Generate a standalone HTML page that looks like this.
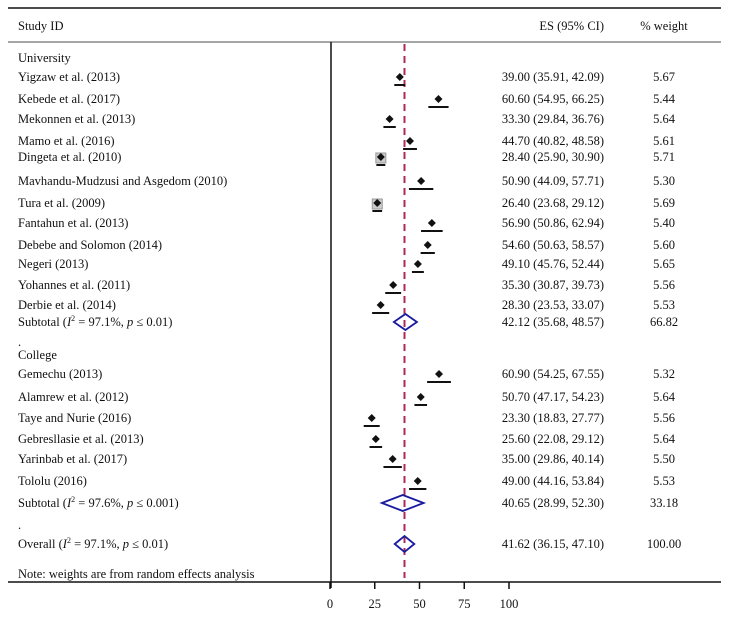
<!DOCTYPE html>
<html><head><meta charset="utf-8"><style>
body{margin:0;background:#fff}
svg text{font-family:"Liberation Serif",serif;font-size:12.5px;fill:#111}
</style></head><body>
<svg id="c" width="729" height="616" xmlns="http://www.w3.org/2000/svg">
<line x1="8" y1="8" x2="721" y2="8" stroke="#111" stroke-width="1.5"/>
<line x1="8" y1="42" x2="721" y2="42" stroke="#888" stroke-width="1.5"/>
<line x1="8" y1="582" x2="721" y2="582" stroke="#111" stroke-width="1.5"/>
<line x1="331" y1="42" x2="331" y2="588" stroke="#111" stroke-width="1.5"/>
<text x="18" y="30">Study ID</text>
<text x="604" y="30" text-anchor="end">ES (95% CI)</text>
<text x="664" y="30" text-anchor="middle">% weight</text>
<g id="plot"></g>
</svg>
<script>
const labels=["University","Yigzaw et al. (2013)","Kebede et al. (2017)","Mekonnen et al. (2013)","Mamo et al. (2016)","Dingeta et al. (2010)","Mavhandu-Mudzusi and Asgedom (2010)","Tura et al. (2009)","Fantahun et al. (2013)","Debebe and Solomon (2014)","Negeri (2013)","Yohannes et al. (2011)","Derbie et al. (2014)","SUB1",".","College","Gemechu (2013)","Alamrew et al. (2012)","Taye and Nurie (2016)","Gebresllasie et al. (2013)","Yarinbab et al. (2017)","Tololu (2016)","SUB2",".","OVERALL","Note: weights are from random effects analysis"];
const rowY=[58,77,99,119,141,157,181,203,223,245,264,285,305,322,342,355,374,397,418,439,459,481,503,525,544,574];
const kinds=["h","s","s","s","s","s","s","s","s","s","s","s","s","d","h","h","s","s","s","s","s","s","d","h","d","h"];
const es=[null,39.00,60.60,33.30,44.70,28.40,50.90,26.40,56.90,54.60,49.10,35.30,28.30,42.12,null,null,60.90,50.70,23.30,25.60,35.00,49.00,40.65,null,41.62,null];
const lo=[null,35.91,54.95,29.84,40.82,25.90,44.09,23.68,50.86,50.63,45.76,30.87,23.53,35.68,null,null,54.25,47.17,18.83,22.08,29.86,44.16,28.99,null,36.15,null];
const hi=[null,42.09,66.25,36.76,48.58,30.90,57.71,29.12,62.94,58.57,52.44,39.73,33.07,48.57,null,null,67.55,54.23,27.77,29.12,40.14,53.84,52.30,null,47.10,null];
const weights=[null,5.67,5.44,5.64,5.61,5.71,5.30,5.69,5.40,5.60,5.65,5.56,5.53,66.82,null,null,5.32,5.64,5.56,5.64,5.50,5.53,33.18,null,100.00,null];
const tickVals=[0,25,50,75,100];
const overall=41.62;
const NS="http://www.w3.org/2000/svg";
const g=document.getElementById('plot');
function X(v){return 330+1.79*v;}
function mk(t,a){const e=document.createElementNS(NS,t);for(const k in a)e.setAttribute(k,a[k]);g.appendChild(e);return e;}
const ol=mk('line',{x1:X(overall),x2:X(overall),y1:44,y2:578,stroke:'#b0285a','stroke-width':2,'stroke-dasharray':'7,5'});


labels.forEach((l,i)=>{
 const y=rowY[i];
 const t=mk('text',{x:18,y:y+4});
 if(l==="SUB1"||l==="SUB2"||l==="OVERALL"){
  const pre=l==="OVERALL"?"Overall (":"Subtotal (";
  const i2=l==="SUB1"?"97.1%, ":l==="SUB2"?"97.6%, ":"97.1%, ";
  const p=l==="SUB2"?" ≤ 0.001)":" ≤ 0.01)";
  t.innerHTML=pre+'<tspan font-style="italic">I</tspan><tspan dy="-5" font-size="8">2</tspan><tspan dy="5"> = '+i2+'</tspan><tspan font-style="italic">p</tspan>'+p;
 } else t.textContent=l;
 
 
 if(es[i]!==null){
  const e=mk('text',{x:604,y:y+4,'text-anchor':'end'});
  e.textContent=es[i].toFixed(2)+" ("+lo[i].toFixed(2)+", "+hi[i].toFixed(2)+")";
  
  
  const w=mk('text',{x:664,y:y+4,'text-anchor':'middle'});
  w.textContent=weights[i].toFixed(2);
  
  
 }
 if(kinds[i]==="s"){
  if(weights[i]>=5.69){const b=mk('rect',{x:X(es[i])-5,y:y-4,width:10,height:10,fill:'#ccc',stroke:'#999'});
   
   }
  const c=mk('line',{x1:X(lo[i]),x2:X(hi[i]),y1:y+8,y2:y+8,stroke:'#111','stroke-width':2});
  
  
  const x=X(es[i]);
  const d=mk('polygon',{points:`${x},${y-4} ${x+4},${y} ${x},${y+4} ${x-4},${y}`,fill:'#111'});
  
  
 } else if(kinds[i]==="d"){
  const a=X(lo[i]),m=X(es[i]),b=X(hi[i]);
  const d=mk('polygon',{points:`${a},${y} ${m},${y-8} ${b},${y} ${m},${y+8}`,fill:'none',stroke:'#1a1aa0','stroke-width':1.8});
  
  
 }
});
tickVals.forEach(v=>{
 const tk=mk('line',{x1:X(v),x2:X(v),y1:582,y2:589,stroke:'#111','stroke-width':1.5});
 
 
 const tl=mk('text',{x:X(v),y:608,'text-anchor':'middle'});
 tl.textContent=v;
 
 
});
</script>
</body></html>
